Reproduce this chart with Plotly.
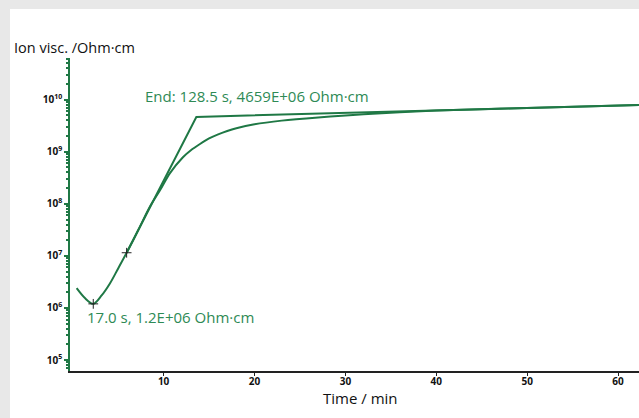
import plotly.graph_objects as go

# Measured ion viscosity over time
time_min = [0.43, 1.34, 2.26, 3.18, 4.09, 5.0, 5.93, 7.2, 8.5, 9.6, 10.7, 12.1,
            13.0, 14.0, 15.0, 16.0, 17.0, 18.0, 20.0, 23.0, 27.0, 32.0, 40.0,
            50.0, 62.3]
ion_visc = [2.4e6, 1.55e6, 1.2e6, 1.74e6, 2.95e6, 5.75e6, 1.15e7, 3.1e7, 8.9e7,
            1.82e8, 3.89e8, 7.76e8, 1.07e9, 1.41e9, 1.8e9, 2.16e9, 2.51e9, 2.83e9,
            3.37e9, 3.96e9, 4.57e9, 5.27e9, 6.19e9, 6.95e9, 7.94e9]

# Tangent construction for the end point
tangent_t = [5.93, 13.6, 62.3]
tangent_v = [1.15e7, 4.659e9, 7.94e9]

# Marked points (minimum and tangent start)
mark_t = [2.26, 5.93]
mark_v = [1.2e6, 1.15e7]

y_ticks = [1e5, 1e6, 1e7, 1e8, 1e9, 1e10]
y_ticktext = ["10<sup>5</sup>", "10<sup>6</sup>", "10<sup>7</sup>",
              "10<sup>8</sup>", "10<sup>9</sup>", "10<sup>10</sup>"]
y_minor = [m * 10 ** e for e in range(4, 11) for m in range(2, 10)]
x_ticks = [10, 20, 30, 40, 50, 60]

GREEN = "#1f7845"
TEXT_GREEN = "#2e8a55"
FONT = "Open Sans"

fig = go.Figure()
fig.add_trace(go.Scatter(x=time_min, y=ion_visc, mode="lines",
                         line=dict(color=GREEN, width=2, shape="spline", smoothing=0.9),
                         hoverinfo="skip"))
fig.add_trace(go.Scatter(x=tangent_t, y=tangent_v, mode="lines",
                         line=dict(color=GREEN, width=2), hoverinfo="skip"))
fig.add_trace(go.Scatter(x=mark_t, y=mark_v, mode="markers",
                         marker=dict(symbol="cross-thin", size=7,
                                     line=dict(color="#222222", width=1)),
                         hoverinfo="skip"))

fig.add_annotation(x=7.72, y=10.07, xref="x", yref="y",
                   text="End: 128.5 s, 4659E+06 Ohm·cm", showarrow=False,
                   xanchor="left", yanchor="middle",
                   font=dict(family=FONT, size=15, color=TEXT_GREEN))
fig.add_annotation(x=1.3, y=5.83, xref="x", yref="y",
                   text="17.0 s, 1.2E+06 Ohm·cm", showarrow=False,
                   xanchor="left", yanchor="middle",
                   font=dict(family=FONT, size=15, color=TEXT_GREEN))
fig.add_annotation(x=-0.102, y=1.035, xref="paper", yref="paper",
                   text="Ion visc. /Ohm·cm", showarrow=False,
                   xanchor="left", yanchor="middle",
                   font=dict(family=FONT, size=14.5, color="#111111"))
# x-axis title
fig.add_annotation(x=0.511, y=-0.086, xref="paper", yref="paper",
                   text="Time / min", showarrow=False,
                   xanchor="center", yanchor="middle",
                   font=dict(family=FONT, size=15, color="#111111"))

# White panel on the grey page
fig.add_shape(type="rect", xref="paper", yref="paper",
              x0=-0.1054, x1=1.01, y0=-0.16, y1=1.1565,
              fillcolor="white", line_width=0, layer="below")

fig.update_layout(
    width=639, height=418,
    margin=dict(l=70, r=0, t=58, b=47),
    paper_bgcolor="#e8e8e8", plot_bgcolor="white",
    showlegend=False,
    font=dict(family=FONT, color="#111111"),
    xaxis=dict(range=[-0.3, 62.3], tickvals=x_ticks, ticks="outside",
               ticklen=3, tickcolor="#222222", showline=True, linecolor="#222222",
               linewidth=1.5, showgrid=False, zeroline=False,
               ticklabelstandoff=-3,
               tickfont=dict(family=FONT, size=10, color="#111111", weight="bold")),
    yaxis=dict(type="log", range=[4.79, 10.8], tickvals=y_ticks, ticktext=y_ticktext,
               ticks="outside", ticklen=4, tickcolor=GREEN, tickwidth=1.5,
               showline=True, linecolor=GREEN, linewidth=1.5, showgrid=False,
               zeroline=False,
               tickfont=dict(family=FONT, size=10, color="#111111", weight="bold"),
               minor=dict(tickvals=y_minor, ticks="outside", ticklen=2,
                          tickcolor=GREEN, showgrid=False)),
)

fig.write_html("out.html")
